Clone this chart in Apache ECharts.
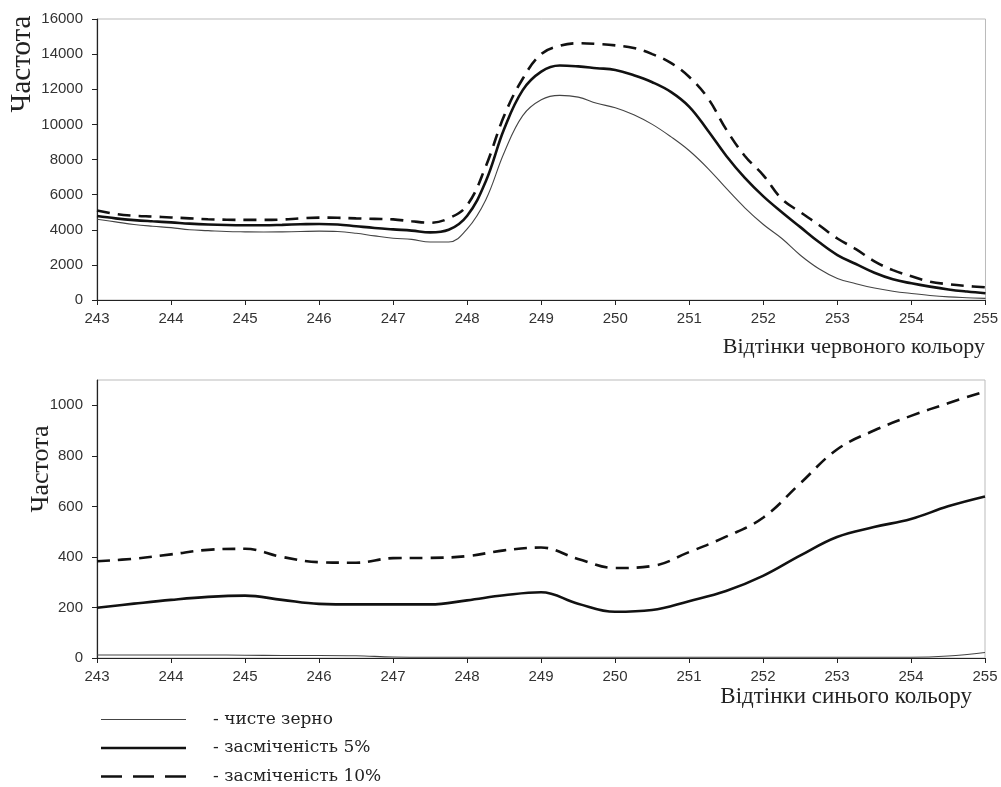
<!DOCTYPE html>
<html>
<head>
	<meta charset="UTF-8">
	<script src="https://cdn.jsdelivr.net/npm/echarts@6/dist/echarts.min.js"></script>
	<title></title>
</head>
<body style="margin:0;background:#fff;">
	<div id="main" style="height:787px;width:1001px;"></div>
	<script type="text/javascript">
        // відтінки червоного, крок 0.25
        var xsRed = [243, 243.25, 243.5, 243.75, 244, 244.25, 244.5, 244.75, 245, 245.25, 245.5, 245.75,
            246, 246.25, 246.5, 246.75, 247, 247.25, 247.5, 247.75, 248, 248.25, 248.5, 248.75,
            249, 249.25, 249.5, 249.75, 250, 250.25, 250.5, 250.75, 251, 251.25, 251.5, 251.75,
            252, 252.25, 252.5, 252.75, 253, 253.25, 253.5, 253.75, 254, 254.25, 254.5, 254.75, 255];
        var redPure = [4600, 4450, 4300, 4200, 4120, 4000, 3950, 3900, 3880, 3870, 3880, 3900,
            3920, 3900, 3800, 3650, 3520, 3450, 3300, 3300, 4050, 5700, 8400, 10500,
            11400, 11650, 11550, 11200, 10950, 10550, 10000, 9300, 8500, 7500, 6350, 5250,
            4300, 3500, 2550, 1780, 1230, 930, 680, 500, 370, 260, 180, 130, 90];
        var red5 = [4780, 4650, 4550, 4480, 4420, 4350, 4300, 4270, 4260, 4260, 4280, 4310,
            4330, 4300, 4200, 4100, 4020, 3950, 3850, 4000, 4800, 6750, 9750, 11950,
            13000, 13350, 13300, 13200, 13100, 12800, 12400, 11850, 11000, 9650, 8200, 6950,
            5900, 5000, 4150, 3300, 2560, 2050, 1550, 1180, 950, 760, 600, 480, 380];
        var red10 = [5100, 4900, 4800, 4750, 4700, 4650, 4600, 4570, 4560, 4560, 4580, 4650,
            4690, 4680, 4650, 4620, 4590, 4480, 4400, 4650, 5400, 7600, 10500, 12600,
            14000, 14470, 14620, 14580, 14500, 14350, 14000, 13500, 12700, 11500, 9700, 8200,
            7100, 5750, 5000, 4270, 3500, 2900, 2200, 1700, 1350, 1040, 900, 800, 720];

        // відтінки синього, крок 0.5
        var xsBlue = [243, 243.5, 244, 244.5, 245, 245.5, 246, 246.5, 247, 247.5, 248, 248.5,
            249, 249.5, 250, 250.5, 251, 251.5, 252, 252.5, 253, 253.5, 254, 254.5, 255];
        var bluePure = [12, 12, 12, 12, 11, 10, 10, 9, 4, 3, 3, 3,
            3, 3, 3, 3, 3, 3, 3, 3, 3, 3, 3, 8, 22];
        var blue5 = [199, 215, 230, 242, 247, 230, 214, 212, 212, 212, 228, 248,
            260, 215, 183, 190, 225, 265, 325, 405, 479, 518, 550, 600, 639];
        var blue10 = [383, 393, 410, 428, 432, 400, 379, 377, 395, 396, 403, 426,
            437, 392, 356, 364, 419, 480, 555, 690, 825, 900, 958, 1008, 1055];

        var names = ['чисте зерно', 'засміченість 5%', 'засміченість 10%'];
        var xTicks = [243, 255, 1];

        function pairs(xs, ys) {
            return xs.map(function (x, i) { return [x, ys[i]]; });
        }

        var numFont = 'Liberation Sans';
        var styles = [
            {color: '#444', width: 1.1, type: 'solid'},
            {color: '#111', width: 2.6, type: 'solid'},
            {color: '#111', width: 2.6, type: [13, 8]}
        ];
        // значки легенди: рамка 85x14 задана крапками по кутах
        var box = 'M0,0h0.01v0.01h-0.01z M84.99,13.99h0.01v0.01h-0.01z ';
        var icons = [
            'path://' + box + 'M0,6.5h85v1.1h-85z',
            'path://' + box + 'M0,5.7h85v2.6h-85z',
            'path://' + box + 'M0,5.7h21v2.6h-21z M32,5.7h21v2.6h-21z M64,5.7h21v2.6h-21z'
        ];

        function xAxisOf(grid) {
            return {
                type: 'value', gridIndex: grid, min: xTicks[0], max: xTicks[1], interval: xTicks[2],
                axisLine: {lineStyle: {color: '#222', width: 1.2}},
                axisTick: {length: 5, lineStyle: {color: '#222'}},
                splitLine: {show: false},
                axisLabel: {color: '#333', fontFamily: numFont, fontSize: 15, margin: 11,
                    formatter: function (v) { return String(v); }}
            };
        }
        function yAxisOf(grid, max, step) {
            return {
                type: 'value', gridIndex: grid, min: 0, max: max, interval: step,
                axisLine: {show: true, lineStyle: {color: '#222', width: 1.2}},
                axisTick: {show: true, length: 5, lineStyle: {color: '#222'}},
                splitLine: {show: false},
                axisLabel: {color: '#333', fontFamily: numFont, fontSize: 15, margin: 14,
                    showMaxLabel: max % step === 0,
                    formatter: function (v) { return String(v); }}
            };
        }

        var series = [];
        var sets = [[redPure, red5, red10], [bluePure, blue5, blue10]];
        var xsets = [xsRed, xsBlue];
        for (var g = 0; g < 2; g++) {
            for (var k = 0; k < 3; k++) {
                series.push({
                    name: names[k], type: 'line', xAxisIndex: g, yAxisIndex: g,
                    smooth: 0.4, showSymbol: false, symbol: 'none', animation: false,
                    lineStyle: styles[k], itemStyle: {color: styles[k].color, borderWidth: 0},
                    data: pairs(xsets[g], sets[g][k])
                });
            }
        }

        var myChart = echarts.init(document.getElementById('main'));
        var option = {
            backgroundColor: '#fff',
            grid: [
                {left: 97, right: 13, top: 19, bottom: 487, show: true, borderColor: '#bbb', borderWidth: 1},
                {left: 97, right: 16, top: 380, bottom: 129, show: true, borderColor: '#bbb', borderWidth: 1}
            ],
            xAxis: [xAxisOf(0), xAxisOf(1)],
            yAxis: [yAxisOf(0, 16000, 2000), yAxisOf(1, 1100, 200)],
            legend: {
                show: true, orient: 'vertical', left: 101, top: 711, height: 120, padding: 0,
                itemWidth: 85, itemHeight: 14, itemGap: 11.5,
                selectedMode: false,
                itemStyle: {borderWidth: 0},
                data: names.map(function (n, i) { return {name: n, icon: icons[i]}; }),
                formatter: function (n) { return '- ' + n; },
                textStyle: {fontFamily: 'DejaVu Serif', fontSize: 17, lineHeight: 14, color: '#222', padding: [0, 0, 0, 22]}
            },
            graphic: [
                {type: 'text', x: 22, y: 64, rotation: Math.PI / 2,
                    style: {text: 'Частота', font: '29px "Liberation Serif"', fill: '#222', textAlign: 'center', textVerticalAlign: 'middle'}},
                {type: 'text', x: 41, y: 469, rotation: Math.PI / 2,
                    style: {text: 'Частота', font: '26px "Liberation Serif"', fill: '#222', textAlign: 'center', textVerticalAlign: 'middle'}},
                {type: 'text', x: 985, y: 347,
                    style: {text: 'Відтінки червоного кольору', font: '22px "Liberation Serif"', fill: '#222', textAlign: 'right', textVerticalAlign: 'middle'}},
                {type: 'text', x: 972, y: 697,
                    style: {text: 'Відтінки синього кольору', font: '23px "Liberation Serif"', fill: '#222', textAlign: 'right', textVerticalAlign: 'middle'}}
            ],
            series: series
        };
        myChart.setOption(option);
	</script>
</body>
</html>
